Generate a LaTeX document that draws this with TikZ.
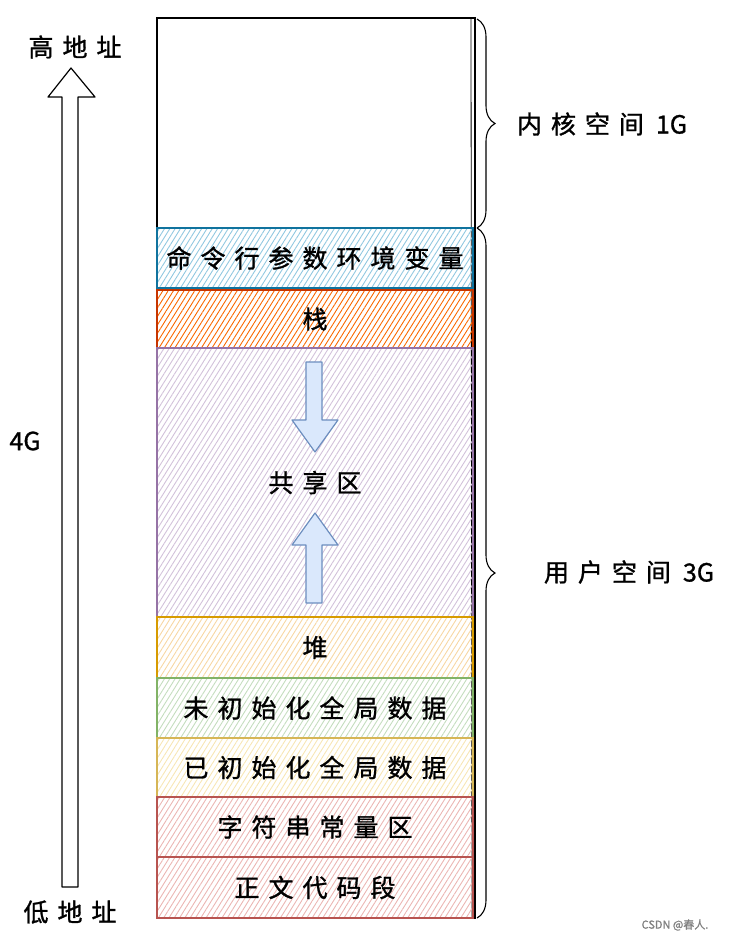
\documentclass[tikz,border=0pt]{standalone}
\usepackage{fontspec}
\setmainfont{Noto Sans CJK SC}[FakeBold=1.2]
\usetikzlibrary{patterns.meta,decorations.pathreplacing}
\definecolor{bS}{HTML}{10739E}\definecolor{bF}{HTML}{B1DDF0}
\definecolor{oS}{HTML}{C73500}\definecolor{oF}{HTML}{FA6800}
\definecolor{pS}{HTML}{9673A6}\definecolor{pF}{HTML}{E1D5E7}
\definecolor{hS}{HTML}{D79B00}\definecolor{hF}{HTML}{FFE6CC}
\definecolor{gS}{HTML}{82B366}\definecolor{gF}{HTML}{D5E8D4}
\definecolor{yS}{HTML}{D6B656}\definecolor{yF}{HTML}{FFF2CC}
\definecolor{rS}{HTML}{B85450}\definecolor{rF}{HTML}{F8CECC}
\definecolor{aS}{HTML}{6C8EBF}\definecolor{aF}{HTML}{DAE8FC}
\newlength\chgap
\setlength\chgap{9pt}
\def\spacedaux#1{\ifx#1\relax\else#1\hspace{\chgap}\expandafter\spacedaux\fi}
\newcommand\spaced[1]{\spacedaux#1\relax\unskip}
\tikzset{
  band/.style 2 args={draw=#1, line width=1.2pt,
    pattern={Lines[angle=58,distance=4.5pt,line width=0.9pt]}, pattern color=#2!80!#1,
    minimum width=316pt, inner sep=0pt, font=\fontsize{25}{25}\selectfont},
  lbl/.style={font=\fontsize{25}{25}\selectfont, inner sep=0pt},
  sarrow/.style={draw=aS, fill=aF, line width=1.2pt, line join=round},
  brc/.style={draw=black, line width=1.1pt, decorate, decoration={brace, amplitude=18pt}},
}
\begin{document}
\begin{tikzpicture}[x=1pt,y=-1pt]
\useasboundingbox (0,0) rectangle (730,942);
% outer frame
\draw[line width=1.2pt] (157,18) rectangle (475,918);
\draw[line width=0.8pt] (471,18) -- (472,918);
% bands
\node[band={bS}{bF}, minimum height=60pt] (cmd) at (315,258) {\spaced{命令行参数环境变量}};
\node[band={oS}{oF}, minimum height=58pt, pattern color=oF] (stack) at (315,319) {栈};
\node[band={pS}{pF}, minimum height=269pt] (share) at (315,482.5) {\spaced{共享区}};
\node[band={hS}{hF}, minimum height=61pt] (heap) at (315,647.5) {堆};
\node[band={gS}{gF}, minimum height=60pt] (bss) at (315,708) {\spaced{未初始化全局数据}};
\node[band={yS}{yF}, minimum height=59pt] (data) at (315,767.5) {\spaced{已初始化全局数据}};
\node[band={rS}{rF}, minimum height=60pt] (rodata) at (315,827) {\spaced{字符串常量区}};
\node[band={rS}{rF}, minimum height=61pt] (text) at (315,887.5) {\spaced{正文代码段}};
% arrows in shared region
\draw[sarrow] (306,362) -- (322,362) -- (322,420) -- (338,420) -- (315,452) -- (292,420) -- (306,420) -- cycle;
\draw[sarrow] (306,603) -- (322,603) -- (322,545) -- (338,545) -- (315,513) -- (292,545) -- (306,545) -- cycle;
% big address arrow
\draw[line width=1.2pt, fill=white, line join=round] (62,887) -- (62,97) -- (48,97) -- (71,68) -- (95,97) -- (78,97) -- (78,887) -- cycle;
% braces
\draw[brc] (477,19) -- (477,228);
\draw[brc] (477,228) -- (477,918);
% labels
\node[lbl] (high) at (75,47) {\spaced{高地址}};
\node[lbl] (low) at (70,912) {\spaced{低地址}};
\node[lbl] (size) at (25,441) {4G};
\node[lbl] (kern) at (602,124) {\spaced{内核空间}\hspace{12pt}1G};
\node[lbl] (user) at (629,572) {\spaced{用户空间}\hspace{12pt}3G};
\node[font=\fontsize{11}{11}\selectfont, text=gray, inner sep=0pt] (mark) at (675,925) {CSDN @春人.};
\end{tikzpicture}
\end{document}
